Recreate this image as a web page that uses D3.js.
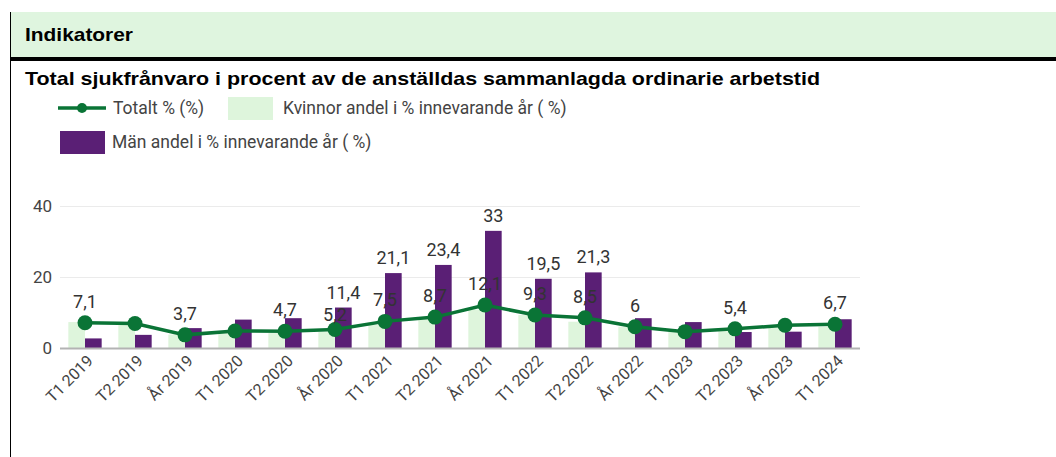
<!DOCTYPE html>
<html>
<head>
<meta charset="utf-8">
<script src="https://cdn.jsdelivr.net/npm/d3@7"></script>
<style>
  body { margin: 0; background: #fff; }
  svg { display: block; }
</style>
</head>
<body>
<div id="container"></div>
<script>
// data
const categories = ["T1 2019", "T2 2019", "År 2019", "T1 2020", "T2 2020", "År 2020",
  "T1 2021", "T2 2021", "År 2021", "T1 2022", "T2 2022", "År 2022",
  "T1 2023", "T2 2023", "År 2023", "T1 2024"];
const totalt  = [7.1, 6.9, 3.7, 4.8, 4.7, 5.2, 7.5, 8.7, 12.1, 9.3, 8.5, 6.0, 4.6, 5.4, 6.4, 6.7];
const kvinnor = [7.3, 6.5, 3.8, 4.4, 4.2, 4.6, 6.5, 8.1, 10.8, 9.3, 7.4, 6.0, 4.8, 5.6, 5.8, 6.0];
const man     = [2.7, 3.7, 5.6, 8.0, 8.4, 11.4, 21.1, 23.4, 33, 19.5, 21.3, 8.4, 7.3, 4.5, 4.6, 8.1];
// annotations google charts kept (others were dropped for overlap)
const totaltLabelShown = [0, 2, 4, 5, 6, 7, 8, 9, 10, 11, 13, 15];
const manLabelShown = [5, 6, 7, 8, 9, 10];
const yTicks = [0, 20, 40];
const seriesNames = ["Totalt % (%)", "Kvinnor andel i % innevarande år ( %)", "Män andel i % innevarande år ( %)"];

const width = 1056, height = 457;
const colors = { line: "#0a7436", kvinnor: "#def5dc", man: "#5a1f75" };
const fmt = v => String(v).replace(".", ",");

const svg = d3.select("#container").append("svg")
  .attr("width", width).attr("height", height);

// page frame: header band, black rule, left border
svg.append("rect").attr("x", 10).attr("y", 12).attr("width", width - 10).attr("height", 45)
  .attr("fill", "#dff5df");
svg.append("rect").attr("x", 10).attr("y", 57).attr("width", width - 10).attr("height", 4)
  .attr("fill", "#000");
svg.append("line").attr("x1", 10.5).attr("x2", 10.5).attr("y1", 12).attr("y2", height)
  .attr("stroke", "#000").attr("stroke-width", 1);

const headFont = "bold 19px 'Liberation Sans', Arial, sans-serif";
svg.append("text").attr("x", 25).attr("y", 41)
  .style("font", headFont)
  .attr("textLength", 108).attr("lengthAdjust", "spacingAndGlyphs")
  .text("Indikatorer");
svg.append("text").attr("x", 25).attr("y", 85)
  .style("font", headFont)
  .attr("textLength", 795).attr("lengthAdjust", "spacingAndGlyphs")
  .text("Total sjukfrånvaro i procent av de anställdas sammanlagda ordinarie arbetstid");

// scales
const x = d3.scaleBand().domain(categories).range([60, 860]);
const inner = d3.scaleBand().domain(["k", "m"]).range([0, x.bandwidth()]).paddingOuter(0.5).paddingInner(0);
const y = d3.scaleLinear().domain([0, 40]).range([348, 206]);

const font = "Roboto, 'Noto Sans', sans-serif";

// gridlines + y labels
svg.selectAll("line.grid").data(yTicks.filter(t => t > 0)).join("line")
  .attr("class", "grid")
  .attr("x1", 60).attr("x2", 860)
  .attr("y1", d => y(d) + 0.5).attr("y2", d => y(d) + 0.5)
  .attr("stroke", "#ebebeb").attr("stroke-width", 1);
svg.selectAll("text.ytick").data(yTicks).join("text")
  .attr("class", "ytick")
  .attr("x", 52).attr("y", d => y(d) + 6)
  .attr("text-anchor", "end")
  .style("font", `17px ${font}`).attr("fill", "#444")
  .text(d => d);

// bars
const rows = categories.map((c, i) => ({ c, i, t: totalt[i], k: kvinnor[i], m: man[i] }));
svg.selectAll("rect.k").data(rows).join("rect")
  .attr("class", "k")
  .attr("x", d => x(d.c) + inner("k"))
  .attr("width", inner.bandwidth())
  .attr("y", d => y(d.k)).attr("height", d => y(0) - y(d.k))
  .attr("fill", colors.kvinnor);
svg.selectAll("rect.m").data(rows).join("rect")
  .attr("class", "m")
  .attr("x", d => x(d.c) + inner("m"))
  .attr("width", inner.bandwidth())
  .attr("y", d => y(d.m)).attr("height", d => y(0) - y(d.m))
  .attr("fill", colors.man);

// baseline
svg.append("line").attr("x1", 60).attr("x2", 860).attr("y1", y(0) + 0.5).attr("y2", y(0) + 0.5)
  .attr("stroke", "#b3b3b3").attr("stroke-width", 2);

// line series
const cx = d => x(d.c) + x.bandwidth() / 2;
svg.append("path").datum(rows)
  .attr("fill", "none").attr("stroke", colors.line).attr("stroke-width", 3.5)
  .attr("d", d3.line().x(cx).y(d => y(d.t)));
svg.selectAll("circle.pt").data(rows).join("circle")
  .attr("class", "pt")
  .attr("cx", cx).attr("cy", d => y(d.t)).attr("r", 7.5)
  .attr("fill", colors.line);

// annotations
const mlab = svg.selectAll("text.mlab").data(rows.filter(d => manLabelShown.includes(d.i))).join("text")
  .attr("class", "mlab")
  .attr("x", d => x(d.c) + inner("m") + inner.bandwidth() / 2)
  .attr("y", d => y(d.m) - 9)
  .attr("text-anchor", "middle")
  .style("font", `18px ${font}`).attr("fill", "#333")
  .text(d => fmt(d.m));
const tlab = svg.selectAll("text.tlab").data(rows.filter(d => totaltLabelShown.includes(d.i))).join("text")
  .attr("class", "tlab")
  .attr("x", cx)
  .attr("y", d => y(d.t) - 15)
  .attr("text-anchor", "middle")
  .style("font", `18px ${font}`).attr("fill", "#333")
  .text(d => fmt(d.t));

// push a line label down if it collides with a bar label (like the 5,2 under 11,4)
const barBoxes = mlab.nodes().map(n => n.getBBox());
tlab.each(function () {
  const b = this.getBBox();
  barBoxes.forEach(o => {
    const hit = b.x < o.x + o.width && o.x < b.x + b.width && b.y < o.y + o.height && o.y < b.y + b.height;
    if (hit) {
      const shift = o.y + o.height - b.y + 1;
      d3.select(this).attr("y", +d3.select(this).attr("y") + shift);
    }
  });
});

// x labels, rotated
svg.selectAll("text.xtick").data(rows).join("text")
  .attr("class", "xtick")
  .attr("transform", d => `translate(${cx(d) + 9},${y(0) + 14}) rotate(-45)`)
  .attr("text-anchor", "end")
  .style("font", `16px ${font}`).attr("fill", "#444")
  .text(d => d.c);

// legend
const lg = svg.append("g").style("font", `17.5px ${font}`).attr("fill", "#444");
lg.append("line").attr("x1", 58).attr("x2", 106).attr("y1", 108).attr("y2", 108)
  .attr("stroke", colors.line).attr("stroke-width", 3.5);
lg.append("circle").attr("cx", 82).attr("cy", 108).attr("r", 5).attr("fill", colors.line);
lg.append("text").attr("x", 113).attr("y", 114).text(seriesNames[0]);
lg.append("rect").attr("x", 228).attr("y", 97).attr("width", 45).attr("height", 23).attr("fill", colors.kvinnor);
lg.append("text").attr("x", 283).attr("y", 114).text(seriesNames[1]);
lg.append("rect").attr("x", 60).attr("y", 131).attr("width", 45).attr("height", 23).attr("fill", colors.man);
lg.append("text").attr("x", 112).attr("y", 148).text(seriesNames[2]);
</script>
</body>
</html>
